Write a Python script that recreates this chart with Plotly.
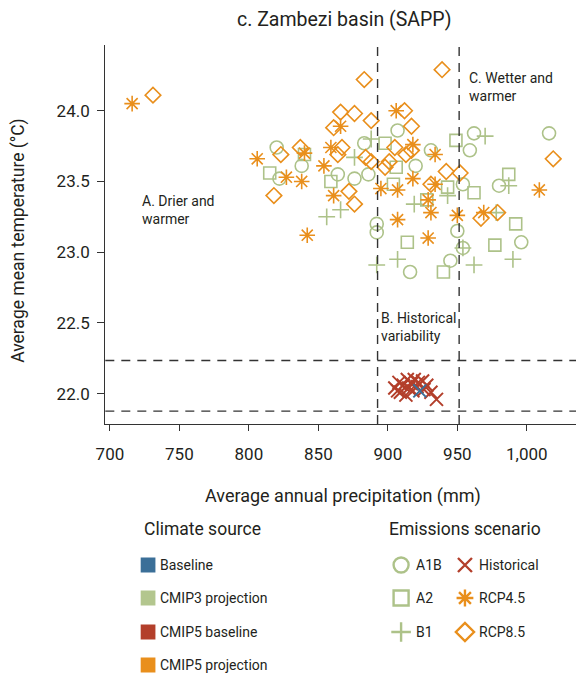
import plotly.graph_objects as go

# ---------------- data (precipitation mm, temperature degC) ----------------
a1b_x = [820, 838, 822, 864, 876, 886, 883, 907, 931, 920, 962, 959, 1016, 954, 980, 892, 892, 950, 954, 945, 996, 916]
a1b_y = [23.74, 23.61, 23.52, 23.55, 23.52, 23.55, 23.77, 23.86, 23.72, 23.61, 23.84, 23.72, 23.84, 23.48, 23.47, 23.20, 23.14, 23.15, 23.03, 22.94, 23.07, 22.86]

a2_x = [815, 840, 859, 898, 906, 904, 949, 943, 962, 987, 928, 992, 914, 977, 940]
a2_y = [23.56, 23.69, 23.50, 23.77, 23.60, 23.48, 23.79, 23.46, 23.42, 23.55, 23.37, 23.20, 23.07, 23.05, 22.86]

b1_x = [856, 866, 876, 888, 970, 919, 943, 987, 978, 892, 907, 954, 962, 990]
b1_y = [23.25, 23.30, 23.67, 23.80, 23.82, 23.34, 23.40, 23.47, 23.28, 22.91, 22.95, 23.03, 22.91, 22.95]

rcp45_x = [716, 806, 827, 838, 840, 854, 859, 842, 866, 906, 918, 934, 895, 907, 918, 934, 929, 931, 950, 969, 1009, 907, 929, 861]
rcp45_y = [24.05, 23.66, 23.53, 23.50, 23.70, 23.61, 23.74, 23.12, 23.89, 24.00, 23.76, 23.69, 23.45, 23.44, 23.52, 23.48, 23.37, 23.28, 23.26, 23.28, 23.44, 23.23, 23.10, 23.40]

rcp85_x = [731, 883, 939, 866, 876, 888, 912, 917, 861, 867, 864, 884, 888, 905, 913, 917, 898, 901, 942, 952, 1019, 872, 876, 931, 967, 979, 823, 837, 818]
rcp85_y = [24.11, 24.22, 24.29, 23.99, 23.98, 23.93, 24.00, 23.89, 23.88, 23.74, 23.69, 23.67, 23.64, 23.74, 23.69, 23.72, 23.60, 23.64, 23.57, 23.56, 23.66, 23.43, 23.34, 23.48, 23.24, 23.28, 23.69, 23.74, 23.40]

hist_x = [905, 908, 911, 914, 917, 919, 922, 925, 928, 909, 913, 918, 931, 935, 915, 921, 907, 926]
hist_y = [22.04, 22.08, 22.06, 22.10, 22.07, 22.10, 22.08, 22.09, 22.06, 22.01, 21.99, 22.02, 22.01, 21.96, 22.04, 22.05, 22.02, 22.03]

base_x = [923]
base_y = [22.02]

# thresholds of historical variability box
precip_lo, precip_hi = 892.6, 951.3
temp_lo, temp_hi = 21.877, 22.235

x_ticks = [700, 750, 800, 850, 900, 950, 1000]
y_ticks = [22.0, 22.5, 23.0, 23.5, 24.0]

climate_sources = ["Baseline", "CMIP3 projection", "CMIP5 baseline", "CMIP5 projection"]
scenarios = ["A1B", "A2", "B1", "Historical", "RCP4.5", "RCP8.5"]

# ---------------- styles ----------------
W, H = 576, 675
FONT = "Roboto"
TXT = "#231f20"
BLUE = "#3b6f98"
GREEN = "#adc289"
GREEN_L = "#b3c68e"
RED = "#b33f2b"
ORANGE = "#e98f1c"

fig = go.Figure()


def add(x, y, symbol, color, size, lw=1.6):
    fig.add_trace(go.Scatter(
        x=x, y=y, mode="markers", xaxis="x", yaxis="y", showlegend=False,
        hoverinfo="skip",
        marker=dict(symbol=symbol, size=size, color=color,
                    line=dict(color=color, width=lw))))


add(a1b_x, a1b_y, "circle-open", GREEN, 13)
add(a2_x, a2_y, "square-open", GREEN, 12)
add(b1_x, b1_y, "cross-thin-open", GREEN, 12)
add(rcp85_x, rcp85_y, "diamond-open", ORANGE, 12)
add(rcp45_x, rcp45_y, "asterisk-open", ORANGE, 13)
add(hist_x, hist_y, "x-thin-open", RED, 13, 2.0)
add(base_x, base_y, "x-thin-open", BLUE, 13, 2.0)

# plot area in pixels
L, R, T, B = 97, 576, 45, 424
x_range = [696.7, 700 + (R - 101.7) / 1.4142]
y_range = [24.0 - (B - 110.7) / 141.5, 24.0 + (110.7 - T) / 141.5]

shapes = []
dash = "9px,7px"
for xv in (precip_lo, precip_hi):
    shapes.append(dict(type="line", xref="x", yref="y domain", x0=xv, x1=xv, y0=0, y1=1,
                       line=dict(color="#333333", width=1.4, dash=dash)))
for yv in (temp_lo, temp_hi):
    shapes.append(dict(type="line", xref="x domain", yref="y", x0=0, x1=1, y0=yv, y1=yv,
                       line=dict(color="#333333", width=1.4, dash=dash)))

# legend color squares (layout coords in pixel-like overlay axis)
src_colors = [BLUE, GREEN_L, RED, ORANGE]
src_y = [565, 598, 632, 665]
for c, yy in zip(src_colors, src_y):
    shapes.append(dict(type="rect", xref="x2", yref="y2", x0=133, x1=148, y0=yy - 7.5, y1=yy + 7.5,
                       fillcolor=c, line=dict(width=0)))

ann = []
PADX = 3  # annotation text inset


def text(x, y, s, size=15, xanchor="left", ref="x2", yanchor="middle", angle=0):
    ann.append(dict(x=x, y=y, xref=ref, yref="y2" if ref == "x2" else "y", text=s,
                    showarrow=False, xanchor=xanchor, yanchor=yanchor, textangle=angle,
                    align="left" if xanchor == "left" else "center",
                    font=dict(family=FONT, size=size, color=TXT)))


text(340, 19, "c. Zambezi basin (SAPP)", 19.5, "center")
text(339, 496, "Average annual precipitation (mm)", 18, "center")
text(8, 241, "Average mean temperature (°C)", 17.5, "center", angle=-90)

# region annotations in data coords (x shifted by the text inset)
text(725.7 - 2 * PADX / 1.414, 23.296, "A. Drier and<br>warmer", 14, "left", ref="x")
text(896.1 - PADX / 1.414, 22.472, "B. Historical<br>variability", 14, "left", ref="x")
text(959.0 - PADX / 1.414, 24.164, "C. Wetter and<br>warmer", 14, "left", ref="x")

# legend headers and labels
text(140 - 2 * PADX, 529, "Climate source", 17.5)
text(387 - PADX, 529, "Emissions scenario", 17.5)
for s, yy in zip(climate_sources, src_y):
    text(157 - 2 * PADX, yy, s, 14)
for s, (xx, yy) in zip(scenarios, [(414, 565), (414, 598), (414, 632), (478, 565), (478, 598), (478, 632)]):
    text(xx - PADX, yy, s, 14)

# legend symbols
leg_sym = ["circle-open", "square-open", "cross-thin-open", "x-thin-open", "asterisk-open", "diamond-open"]
leg_col = [GREEN, GREEN, GREEN, RED, ORANGE, ORANGE]
leg_size = [15, 15, 14, 14, 14, 14]
leg_x = [398, 398, 398, 463, 463, 463]
leg_y = [565, 598, 632, 565, 598, 632]
for sy, c, sz, xx, yy in zip(leg_sym, leg_col, leg_size, leg_x, leg_y):
    fig.add_trace(go.Scatter(x=[xx], y=[yy], mode="markers", xaxis="x2", yaxis="y2",
                             showlegend=False, hoverinfo="skip",
                             marker=dict(symbol=sy, size=sz, color=c, line=dict(color=c, width=2.4))))

fig.update_layout(
    width=W, height=H,
    margin=dict(l=0, r=0, t=0, b=0),
    paper_bgcolor="white", plot_bgcolor="rgba(0,0,0,0)",
    showlegend=False,
    font=dict(family=FONT, color=TXT),
    xaxis=dict(domain=[L / W, R / W], range=x_range, anchor="y",
               tickvals=x_ticks, ticktext=[f"{v:,}" for v in x_ticks],
               showgrid=False, zeroline=False, showline=True, linecolor="#333333", linewidth=1.3,
               ticks="outside", ticklen=6, tickwidth=1.2, tickcolor="#333333",
               tickfont=dict(family=FONT, size=17, color=TXT), ticklabelstandoff=8),
    yaxis=dict(domain=[1 - B / H, 1 - T / H], range=y_range, anchor="x",
               tickvals=y_ticks, ticktext=[f"{v:.1f}" for v in y_ticks],
               showgrid=False, zeroline=False, showline=True, linecolor="#333333", linewidth=1.3,
               ticks="outside", ticklen=7, tickwidth=1.2, tickcolor="#333333",
               tickfont=dict(family=FONT, size=17, color=TXT), ticklabelstandoff=4),
    xaxis2=dict(domain=[0, 1], range=[0, W], anchor="y2", visible=False, fixedrange=True),
    yaxis2=dict(domain=[0, 1], range=[H, 0], anchor="x2", visible=False, fixedrange=True),
    shapes=shapes,
    annotations=ann,
)

fig.write_html("out.html")
